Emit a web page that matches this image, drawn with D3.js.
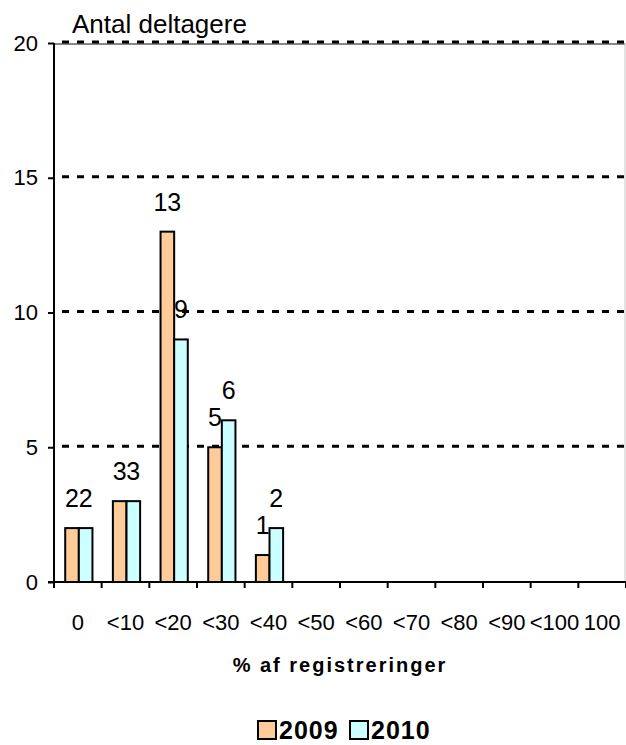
<!DOCTYPE html>
<html>
<head>
<meta charset="utf-8">
<script src="https://cdn.jsdelivr.net/npm/d3@7"></script>
<style>
  body { margin: 0; background: #fff; }
  text { font-family: Arial, "Liberation Sans", sans-serif; }
</style>
</head>
<body>
<svg id="chart" width="626" height="745"></svg>
<script>
const categories = ['0', '<10', '<20', '<30', '<40', '<50', '<60', '<70', '<80', '<90', '<100', '100'];
const seriesNames = ['2009', '2010'];
const values2009 = [2, 3, 13, 5, 1, null, null, null, null, null, null, null];
const values2010 = [2, 3, 9, 6, 2, null, null, null, null, null, null, null];
const yTicks = [0, 5, 10, 15, 20];
const colors = ['#FFCC99', '#CCFFFF'];

const svg = d3.select('svg#chart');
const plotLeft = 54, plotRight = 626, plotTop = 43, plotBottom = 582;

const x = d3.scaleBand().domain(categories).range([plotLeft, plotRight]).padding(0);
const xInner = d3.scaleBand().domain(seriesNames).range([0, x.bandwidth()])
  .paddingInner(0).paddingOuter(0.75);
const y = d3.scaleLinear().domain([0, 20]).range([plotBottom, plotTop]);

// plot border (top / right)
svg.append('line').attr('x1', plotLeft).attr('x2', plotRight - 1).attr('y1', plotTop + 1).attr('y2', plotTop + 1)
  .attr('stroke', '#888').attr('stroke-width', 2);
svg.append('line').attr('x1', plotRight - 1).attr('x2', plotRight - 1).attr('y1', plotTop).attr('y2', plotBottom)
  .attr('stroke', '#c8c8c8').attr('stroke-width', 1);

// gridlines
svg.append('g').selectAll('line')
  .data(yTicks.filter(d => d > 0))
  .enter().append('line')
  .attr('x1', plotLeft).attr('x2', plotRight)
  .attr('y1', d => y(d) - 1).attr('y2', d => y(d) - 1)
  .attr('stroke', '#000').attr('stroke-width', 3)
  .attr('stroke-dasharray', '7,8')
  .attr('stroke-dashoffset', -8);

// bars
const data = categories.map((c, i) => ({ cat: c, vals: [values2009[i], values2010[i]] }));
const groups = svg.append('g').selectAll('g')
  .data(data).enter().append('g')
  .attr('transform', d => `translate(${x(d.cat) + 1},0)`);

groups.selectAll('rect')
  .data(d => d.vals.map((v, j) => ({ key: seriesNames[j], v, j })).filter(e => e.v != null))
  .enter().append('rect')
  .attr('x', e => xInner(e.key))
  .attr('width', xInner.bandwidth())
  .attr('y', e => y(e.v))
  .attr('height', e => y(0) - y(e.v))
  .attr('fill', e => colors[e.j])
  .attr('stroke', '#000').attr('stroke-width', 2);

groups.selectAll('text')
  .data(d => d.vals.map((v, j) => ({ key: seriesNames[j], v, j })).filter(e => e.v != null))
  .enter().append('text')
  .attr('x', e => xInner(e.key) + xInner.bandwidth() / 2)
  .attr('y', e => y(e.v) - 21)
  .attr('text-anchor', 'middle')
  .style('font-size', '25px')
  .text(e => e.v);

// y axis
const yAxis = svg.append('g').attr('transform', `translate(${plotLeft},0)`)
  .call(d3.axisLeft(y).tickValues(yTicks).tickSize(6).tickPadding(10));
yAxis.select('.domain').attr('stroke', '#000').attr('stroke-width', 2).attr('d', `M0,${plotTop}V${plotBottom}`);
yAxis.selectAll('.tick line').attr('stroke', '#000').attr('stroke-width', 2);
yAxis.selectAll('.tick text').style('font-size', '22px').style('font-family', 'Arial, "Liberation Sans", sans-serif').attr('fill', '#000');

// x axis
const xAxis = svg.append('g').attr('transform', `translate(0,${plotBottom})`)
  .call(d3.axisBottom(x).tickSize(0).tickPadding(32));
xAxis.select('.domain').attr('stroke', '#000').attr('stroke-width', 2).attr('d', `M${plotLeft - 6},0H${plotRight}`);
xAxis.selectAll('.tick text').style('font-size', '22px').style('font-family', 'Arial, "Liberation Sans", sans-serif')
  .attr('fill', '#000');
svg.append('g').selectAll('line')
  .data(categories.concat(['end']))
  .enter().append('line')
  .attr('x1', (d, i) => i < categories.length ? x(d) : plotRight)
  .attr('x2', (d, i) => i < categories.length ? x(d) : plotRight)
  .attr('y1', plotBottom).attr('y2', plotBottom + 6)
  .attr('stroke', '#000').attr('stroke-width', 2);

// titles
svg.append('text').attr('x', 72).attr('y', 33)
  .style('font-size', '26px').text('Antal deltagere');
svg.append('text').attr('x', 340).attr('y', 672)
  .attr('text-anchor', 'middle')
  .style('font-size', '20px').style('font-weight', 'bold').style('letter-spacing', '2px')
  .text('% af registreringer');

// legend
const legend = svg.append('g').attr('transform', 'translate(258,721)');
const items = legend.selectAll('g').data(seriesNames).enter().append('g')
  .attr('transform', (d, i) => `translate(${i * 92},0)`);
items.append('rect').attr('width', 18).attr('height', 18)
  .attr('fill', (d, i) => colors[i]).attr('stroke', '#000').attr('stroke-width', 2);
items.append('text').attr('x', 21).attr('y', 18)
  .style('font-size', '25px').style('font-weight', 'bold').style('letter-spacing', '1px')
  .text(d => d);
</script>
</body>
</html>
